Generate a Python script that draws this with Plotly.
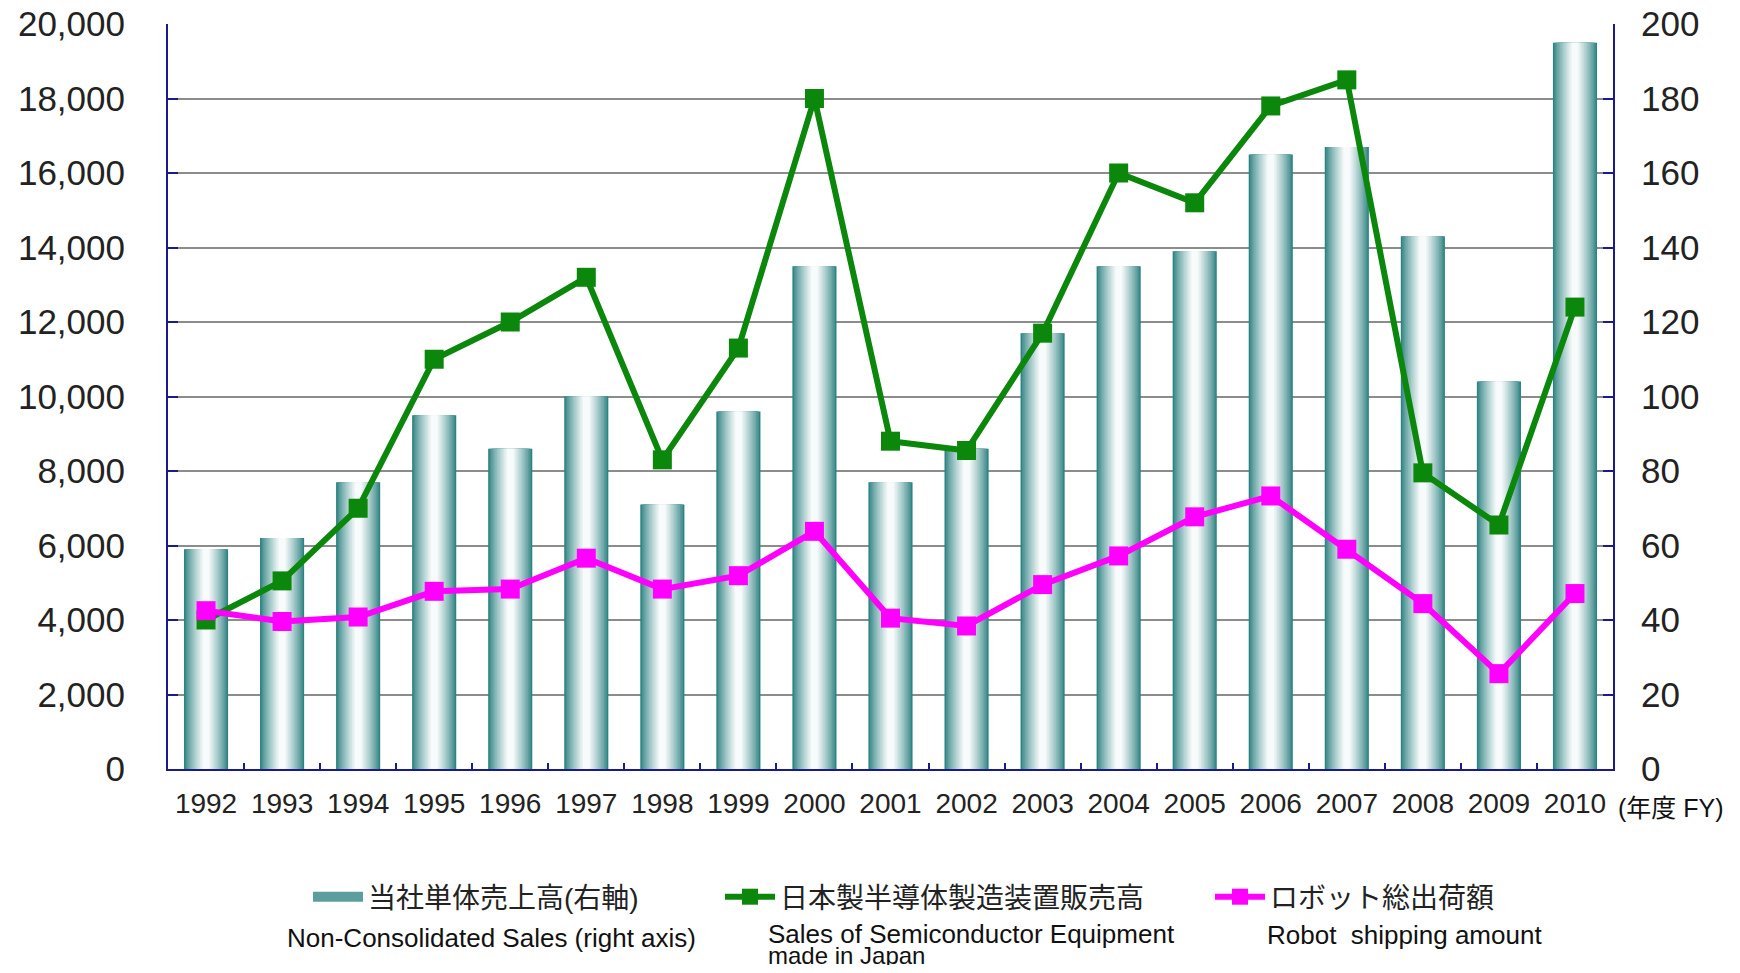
import plotly.graph_objects as go

years = [str(y) for y in range(1992, 2011)]
# Non-consolidated sales (right axis, 0-200)
sales = [59, 62, 77, 95, 86, 100, 71, 96, 135, 77, 86, 117, 135, 139, 165, 167, 143, 104, 195]
# Sales of semiconductor equipment made in Japan (left axis)
semi = [4000, 5050, 7000, 11000, 12000, 13200, 8300, 11300, 18000, 8800, 8550, 11700,
        16000, 15200, 17800, 18500, 7950, 6550, 12400]
# Robot shipping amount (left axis)
robot = [4250, 3960, 4080, 4770, 4830, 5660, 4830, 5190, 6380, 4050, 3840, 4950,
         5720, 6770, 7330, 5900, 4440, 2560, 4710]

name_bar = "当社単体売上高(右軸)"
name_semi = "日本製半導体製造装置販売高"
name_robot = "ロボット総出荷額"

FONT = "Liberation Sans, Arial, Noto Sans CJK JP"
NAVY = "#1a1a8c"
GREEN = "#0b870b"
MAGENTA = "#ff00ff"

fig = go.Figure()

# gradient bars: stacked overlays of narrowing bars, teal -> white
N = 14
W = 0.58
teal = (0x2e, 0x82, 0x82)
white = (0xf8, 0xfb, 0xfb)
for k in range(N):
    t = k / (N - 1)
    t2 = t ** 0.8
    c = tuple(round(teal[i] + (white[i] - teal[i]) * t2) for i in range(3))
    fig.add_trace(go.Bar(
        x=years, y=sales, yaxis="y",
        width=W * (1 - 0.85 * k / (N - 1)),
        marker=dict(color="rgb(%d,%d,%d)" % c, line=dict(width=0), opacity=1),
        name=name_bar, showlegend=False,
        hoverinfo="skip" if k else None,
    ))

# legend swatch for the bar series (wide block like the reference)
fig.add_trace(go.Scatter(
    x=[years[0]], y=[None], yaxis="y", mode="lines", name=name_bar,
    line=dict(color="#5c9e9e", width=15), legend="legend", hoverinfo="skip",
))

fig.add_trace(go.Scatter(
    x=years, y=semi, yaxis="y2", mode="lines+markers", name=name_semi,
    line=dict(color=GREEN, width=6),
    marker=dict(symbol="square", size=19, color=GREEN),
    legend="legend2",
))
fig.add_trace(go.Scatter(
    x=years, y=robot, yaxis="y2", mode="lines+markers", name=name_robot,
    line=dict(color=MAGENTA, width=6),
    marker=dict(symbol="square", size=19, color=MAGENTA),
    legend="legend3",
))

# page offset (browser body margin)
OFF = 8
FW, FH = 1740 - 2 * OFF, 973 - 2 * OFF
# plot area in screen pixels
SX0, SX1, SY0, SY1 = 168, 1613, 24, 769
L, R, T, B = SX0 - OFF, FW - (SX1 - OFF), SY0 - OFF, FH - (SY1 - OFF)
PW, PH = SX1 - SX0, SY1 - SY0


def px(xs):
    return (xs - SX0) / PW


def py(ys):
    return (SY1 - ys) / PH


leg_common = dict(orientation="h", yanchor="middle", xanchor="left",
                  bgcolor="rgba(0,0,0,0)", borderwidth=0,
                  font=dict(family=FONT, size=28, color="#222"), itemwidth=50)

fig.update_layout(
    width=FW, height=FH,
    margin=dict(l=L, r=R, t=T, b=B, autoexpand=False),
    paper_bgcolor="white", plot_bgcolor="white",
    barmode="overlay",
    font=dict(family=FONT, color="#222"),
    xaxis=dict(type="category", range=[-0.5, 18.5], showline=True, linecolor=NAVY,
               linewidth=2, ticks="inside", tickson="boundaries", ticklen=6,
               tickcolor=NAVY, tickwidth=2, showgrid=False, automargin=False,
               ticklabelstandoff=8, ticklabeloverflow="allow",
               tickfont=dict(family=FONT, size=28, color="#222")),
    yaxis=dict(side="right", range=[0, 200], dtick=20, showgrid=True,
               gridcolor="#8c8c8c", gridwidth=2, showline=True, linecolor=NAVY,
               linewidth=2, ticks="inside", ticklen=10, tickcolor=NAVY, tickwidth=2,
               zeroline=False, ticklabelstandoff=19, automargin=False,
               ticklabeloverflow="allow",
               tickfont=dict(family=FONT, size=35, color="#222")),
    yaxis2=dict(overlaying="y", side="left", range=[0, 20000], dtick=2000,
                tickformat=",d", showgrid=False, showline=True, linecolor=NAVY,
                linewidth=2, ticks="inside", ticklen=10, tickcolor=NAVY, tickwidth=2,
                zeroline=False, ticklabelstandoff=34, automargin=False,
                ticklabeloverflow="allow",
                tickfont=dict(family=FONT, size=35, color="#222")),
    legend=dict(x=px(308), y=py(897), **leg_common),
    legend2=dict(x=px(720), y=py(897), **leg_common),
    legend3=dict(x=px(1210), y=py(897), **leg_common),
    showlegend=True,
)

ann_font = dict(family=FONT, size=26, color="#111")
fig.add_annotation(text="(年度 FY)", xref="paper", yref="paper", x=px(1616), y=py(808),
                   xanchor="left", yanchor="middle", showarrow=False,
                   font=dict(family=FONT, size=25, color="#111"))
fig.add_annotation(text="Non-Consolidated Sales (right axis)", xref="paper", yref="paper",
                   x=px(491), y=py(938), xanchor="center", yanchor="middle",
                   showarrow=False, font=ann_font)
fig.add_annotation(text="Sales of Semiconductor Equipment", xref="paper", yref="paper",
                   x=px(766), y=py(934), xanchor="left", yanchor="middle",
                   showarrow=False, font=ann_font)
fig.add_annotation(text="made in Japan", xref="paper", yref="paper",
                   x=px(766), y=py(955), xanchor="left", yanchor="middle",
                   showarrow=False, font=dict(family=FONT, size=24, color="#111"))
fig.add_annotation(text="Robot\u00a0 shipping amount", xref="paper", yref="paper",
                   x=px(1265), y=py(935), xanchor="left", yanchor="middle",
                   showarrow=False, font=ann_font)

fig.write_html("out.html")
